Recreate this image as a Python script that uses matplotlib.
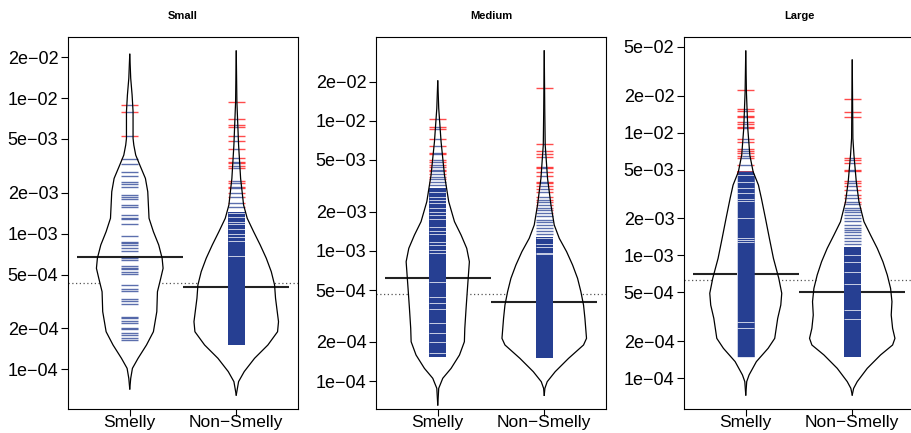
import numpy as np
import matplotlib.pyplot as plt
from matplotlib.ticker import NullLocator

plt.rcParams['font.family'] = ['Liberation Sans', 'DejaVu Sans']

panels = ["Small", "Medium", "Large"]
groups = ["Smelly", "Non\u2212Smelly"]

# bean outlines: log10(value) and half width of the bean
small_smelly_logy = [-1.677, -1.854, -1.977, -2.100, -2.297, -2.346, -2.420, -2.493, -2.592, -2.690,
                     -2.886, -2.985, -3.083, -3.181, -3.255, -3.329, -3.428, -3.575, -3.723, -3.821,
                     -3.919, -3.993, -4.067, -4.145]
small_smelly_hw = [0.0, 0.009, 0.022, 0.031, 0.031, 0.038, 0.056, 0.094, 0.147, 0.169,
                   0.181, 0.222, 0.272, 0.304, 0.313, 0.291, 0.260, 0.254, 0.222, 0.157,
                   0.078, 0.025, 0.009, 0.0]
small_non_logy = [-1.653, -2.026, -2.346, -2.592, -2.788, -2.886, -2.985, -3.083, -3.181, -3.280,
                  -3.378, -3.476, -3.575, -3.649, -3.723, -3.821, -3.919, -4.017, -4.091, -4.190]
small_non_hw = [0.0, 0.006, 0.022, 0.041, 0.069, 0.103, 0.163, 0.225, 0.282, 0.329,
                0.360, 0.369, 0.385, 0.397, 0.388, 0.297, 0.172, 0.075, 0.022, 0.0]
medium_smelly_logy = [-1.694, -1.904, -2.160, -2.417, -2.622, -2.775, -2.878, -2.980, -3.083, -3.185,
                      -3.288, -3.441, -3.595, -3.698, -3.800, -3.903, -3.979, -4.056, -4.184]
medium_smelly_hw = [0.0, 0.009, 0.031, 0.063, 0.103, 0.157, 0.219, 0.272, 0.297, 0.288,
                    0.279, 0.266, 0.254, 0.250, 0.204, 0.125, 0.047, 0.009, 0.0]
medium_non_logy = [-1.463, -1.930, -2.186, -2.442, -2.647, -2.801, -2.903, -3.006, -3.108, -3.211,
                   -3.313, -3.416, -3.518, -3.672, -3.723, -3.826, -3.928, -4.005, -4.056, -4.110]
medium_non_hw = [0.0, 0.005, 0.009, 0.031, 0.063, 0.094, 0.141, 0.210, 0.266, 0.313,
                 0.344, 0.369, 0.382, 0.397, 0.369, 0.228, 0.103, 0.028, 0.006, 0.0]
large_smelly_logy = [-1.337, -1.667, -1.966, -2.183, -2.318, -2.427, -2.536, -2.698, -2.861, -3.024,
                     -3.186, -3.308, -3.404, -3.512, -3.675, -3.756, -3.864, -3.973, -4.027, -4.136]
large_smelly_hw = [0.0, 0.006, 0.019, 0.038, 0.069, 0.119, 0.147, 0.185, 0.222, 0.260,
                   0.310, 0.338, 0.329, 0.300, 0.272, 0.210, 0.100, 0.031, 0.009, 0.0]
large_non_logy = [-1.410, -2.047, -2.183, -2.400, -2.563, -2.725, -2.834, -2.942, -3.051, -3.159,
                  -3.268, -3.376, -3.485, -3.593, -3.675, -3.729, -3.810, -3.919, -4.027, -4.082, -4.136]
large_non_hw = [0.0, 0.006, 0.016, 0.038, 0.063, 0.110, 0.172, 0.235, 0.288, 0.329,
                0.360, 0.373, 0.366, 0.379, 0.401, 0.379, 0.266, 0.141, 0.047, 0.013, 0.0]

# single observations (bean lines)
small_smelly_obs = [8.9e-3, 7.85e-3, 5.28e-3, 3.53e-3, 3.25e-3, 2.84e-3, 2.68e-3, 2.39e-3, 2.31e-3,
                    2.22e-3, 1.93e-3, 1.85e-3, 1.79e-3, 1.63e-3, 1.58e-3, 1.37e-3, 1.31e-3, 1.28e-3,
                    1.18e-3, 9.6e-4, 8.7e-4, 8.5e-4, 8.3e-4, 7.8e-4, 7.4e-4, 6.6e-4, 6.4e-4, 5.8e-4,
                    5.6e-4, 5.5e-4, 5.25e-4, 5.07e-4, 4.19e-4, 3.89e-4, 3.78e-4, 3.3e-4, 3.19e-4,
                    3.01e-4, 2.44e-4, 2.38e-4, 2.27e-4, 2.21e-4, 2.03e-4, 1.97e-4, 1.84e-4, 1.79e-4,
                    1.71e-4, 1.65e-4]
small_non_obs = [9.4e-3, 7.0e-3, 6.3e-3, 6.1e-3, 5.3e-3, 4.8e-3, 4.2e-3, 3.64e-3, 3.4e-3, 3.3e-3,
                 3.18e-3, 3.07e-3, 2.45e-3, 2.38e-3, 2.22e-3, 2.16e-3, 1.99e-3, 1.85e-3, 1.68e-3, 1.58e-3]
medium_smelly_obs = [1.04e-2, 8.9e-3, 8.6e-3, 7.3e-3, 6.4e-3, 5.7e-3, 5.6e-3, 5.0e-3, 4.8e-3, 4.6e-3,
                     4.4e-3, 4.2e-3, 4.1e-3, 3.9e-3, 3.7e-3, 3.6e-3, 3.4e-3, 3.2e-3]
medium_non_obs = [1.78e-2, 6.6e-3, 5.9e-3, 5.6e-3, 5.3e-3, 4.4e-3, 4.3e-3, 4.06e-3, 3.79e-3, 3.4e-3,
                  3.3e-3, 3.17e-3, 2.99e-3, 2.85e-3, 2.61e-3, 2.46e-3, 2.39e-3, 2.25e-3, 2.12e-3,
                  2.06e-3, 1.95e-3, 1.87e-3, 1.73e-3, 1.68e-3, 1.58e-3, 1.49e-3, 1.41e-3, 1.34e-3]
large_smelly_obs = [2.22e-2, 1.55e-2, 1.5e-2, 1.37e-2, 1.35e-2, 1.21e-2, 1.17e-2, 1.12e-2, 1.08e-2,
                    8.9e-3, 8.4e-3, 7.4e-3, 7.1e-3, 6.8e-3, 6.5e-3, 6.2e-3, 5.4e-3]
large_non_obs = [1.86e-2, 1.46e-2, 1.35e-2, 6.2e-3, 5.97e-3, 5.7e-3, 5.0e-3, 4.86e-3, 4.03e-3, 3.86e-3,
                 3.69e-3, 3.4e-3, 3.1e-3, 2.95e-3, 2.74e-3, 2.6e-3, 2.45e-3, 2.34e-3, 2.24e-3, 2.13e-3,
                 2.03e-3, 1.91e-3, 1.77e-3, 1.68e-3, 1.61e-3, 1.54e-3, 1.47e-3, 1.39e-3, 1.31e-3, 1.25e-3]

# ranges so dense that the bean lines merge into a solid block (low, high)
small_smelly_block = None
small_non_block = (1.51e-4, 1.45e-3)
medium_smelly_block = (1.54e-4, 3.03e-3)
medium_non_block = (1.49e-4, 1.29e-3)
large_smelly_block = (1.50e-4, 4.86e-3)
large_non_block = (1.50e-4, 1.18e-3)

# empty spots inside the blocks
small_non_gaps = [1.42e-3, 1.33e-3, 1.22e-3, 1.17e-3, 1.08e-3, 9.9e-4, 9.4e-4, 8.9e-4, 6.8e-4]
medium_smelly_gaps = [2.82e-3, 2.61e-3, 2.46e-3, 2.32e-3, 2.12e-3, 2.0e-3, 1.89e-3, 1.76e-3, 1.53e-3,
                      1.41e-3, 1.34e-3, 1.18e-3, 1.11e-3, 1.02e-3, 9.6e-4, 5.8e-4, 4.45e-4, 4.0e-4,
                      3.6e-4, 2.77e-4, 2.32e-4, 2.0e-4, 1.63e-4]
medium_non_gaps = [1.26e-3, 1.14e-3, 1.08e-3, 9.7e-4, 9.4e-4]
large_smelly_gaps = [4.5e-3, 3.98e-3, 3.56e-3, 3.2e-3, 2.9e-3, 2.77e-3, 2.0e-3, 1.38e-3, 1.33e-3,
                     1.29e-3, 2.89e-4, 2.55e-4]
large_non_gaps = [1.01e-3, 8.9e-4, 7.3e-4, 5.8e-4, 3.6e-4, 3.03e-4]

# bean averages and overall average (dotted)
small_avg = [6.76e-4, 4.06e-4]
medium_avg = [6.19e-4, 4.05e-4]
large_avg = [7.06e-4, 5.07e-4]
overall_avg = [4.33e-4, 4.67e-4, 6.26e-4]

ylims_log = [(-4.293, -1.549), (-4.215, -1.356), (-4.250, -1.222)]
yticks = [1e-4, 2e-4, 5e-4, 1e-3, 2e-3, 5e-3, 1e-2, 2e-2, 5e-2]
ytick_labels = ["1e\u221204", "2e\u221204", "5e\u221204", "1e\u221203", "2e\u221203",
                "5e\u221203", "1e\u221202", "2e\u221202", "5e\u221202"]

LL = 0.16
BLUE = '#263f92'
RED = '#ff0000'


def width_at(v, logy, hw):
    lv = np.log10(v)
    return np.minimum(np.interp(lv, logy[::-1], hw[::-1]), LL / 2)


def draw_bean(ax, x, logy, hw, obs, block, gaps, avg):
    logy = np.array(logy)
    hw = np.array(hw)
    yy = 10 ** logy
    ax.fill_betweenx(yy, x - hw, x + hw, color='white', lw=0, zorder=2)
    ax.hlines(avg, x - 0.5, x + 0.5, color='#222222', lw=1.5, zorder=3)

    if block is not None:
        ys = np.geomspace(block[0], block[1], 300)
        w = width_at(ys, logy, hw)
        ax.fill_betweenx(ys, x - LL / 2, x + LL / 2, color=RED, alpha=0.7, lw=0, zorder=4)
        ax.fill_betweenx(ys, x - LL / 2, x + LL / 2, where=w >= LL / 2 - 1e-9,
                         color='white', lw=0, zorder=4)
        ax.fill_betweenx(ys, x - w, x + w, color=BLUE, lw=0, zorder=4)
        gw = width_at(np.array(gaps), logy, hw)
        ax.hlines(gaps, x - gw, x + gw, color='white', lw=0.7, alpha=0.75, zorder=4)

    obs = np.array(obs)
    w = width_at(obs, logy, hw)
    out = w < LL / 2
    ax.hlines(obs[out], x - LL / 2, x - w[out], color=RED, lw=1.0, alpha=0.7, zorder=4)
    ax.hlines(obs[out], x + w[out], x + LL / 2, color=RED, lw=1.0, alpha=0.7, zorder=4)
    ax.hlines(obs, x - w, x + w, color=BLUE, lw=1.0, alpha=0.75, zorder=4)

    ax.plot(x - hw, yy, color='black', lw=0.9, zorder=5)
    ax.plot(x + hw, yy, color='black', lw=0.9, zorder=5)


fig = plt.figure(figsize=(9.12, 4.33), dpi=100)
lefts = [68 / 912, 376 / 912, 684 / 912]
bottom = 1 - 409 / 433
height = (409 - 37) / 433
width = 230 / 912

beans = [
    [(small_smelly_logy, small_smelly_hw, small_smelly_obs, small_smelly_block, []),
     (small_non_logy, small_non_hw, small_non_obs, small_non_block, small_non_gaps)],
    [(medium_smelly_logy, medium_smelly_hw, medium_smelly_obs, medium_smelly_block, medium_smelly_gaps),
     (medium_non_logy, medium_non_hw, medium_non_obs, medium_non_block, medium_non_gaps)],
    [(large_smelly_logy, large_smelly_hw, large_smelly_obs, large_smelly_block, large_smelly_gaps),
     (large_non_logy, large_non_hw, large_non_obs, large_non_block, large_non_gaps)],
]
avgs = [small_avg, medium_avg, large_avg]

for i, name in enumerate(panels):
    ax = fig.add_axes([lefts[i], bottom, width, height])
    ax.set_yscale('log')
    ax.axhline(overall_avg[i], color='#555555', lw=0.9, ls=(0, (1, 2)), zorder=1)
    for j in range(2):
        logy, hw, obs, block, gaps = beans[i][j]
        draw_bean(ax, j + 1, logy, hw, obs, block, gaps, avgs[i][j])

    ax.set_xlim(0.42, 2.58)
    lo, hi = ylims_log[i]
    ax.set_ylim(10 ** lo, 10 ** hi)
    ticks = [t for t in yticks if lo < np.log10(t) < hi]
    labels = [ytick_labels[k] for k, t in enumerate(yticks) if lo < np.log10(t) < hi]
    ax.set_yticks(ticks)
    ax.set_yticklabels(labels)
    ax.yaxis.set_minor_locator(NullLocator())
    ax.set_xticks([1, 2])
    ax.set_xticklabels(groups)
    ax.tick_params(direction='out', length=5, width=0.8, labelsize=13, pad=2)
    ax.tick_params(axis='x', labelsize=12.5, pad=-0.8)
    for s in ax.spines.values():
        s.set_linewidth(0.8)
    ax.set_title(name, fontsize=8, fontweight='bold', pad=13)

fig.savefig("out.png", dpi=100)
